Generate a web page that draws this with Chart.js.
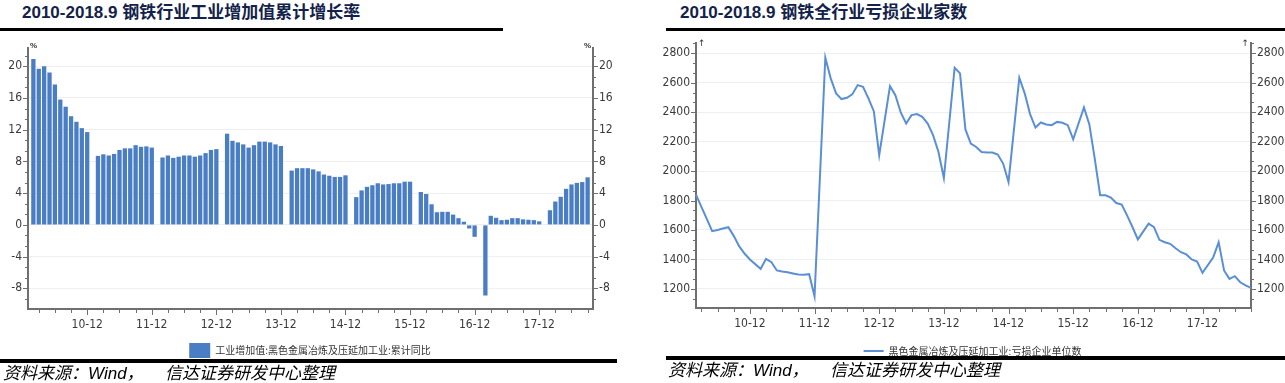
<!DOCTYPE html>
<html><head><meta charset="utf-8">
<script src="https://cdn.jsdelivr.net/npm/chart.js@4.4.1/dist/chart.umd.min.js"></script>
<style>
html,body{margin:0;padding:0;background:#fff;}
body{width:1285px;height:383px;position:relative;overflow:hidden;}
.title{position:absolute;top:2px;font:bold 17px "Liberation Sans","Noto Sans CJK SC",sans-serif;color:#13224a;white-space:nowrap;line-height:22px;}
.rule{position:absolute;background:#000;}
.src{position:absolute;font:italic 17px "Liberation Sans","Noto Sans CJK SC",sans-serif;color:#000;white-space:nowrap;line-height:20px;}
canvas{position:absolute;top:0;}
</style></head>
<body>
<div class="title" style="left:22px">2010-2018.9 钢铁行业工业增加值累计增长率</div>
<div class="title" style="left:680px">2010-2018.9 钢铁全行业亏损企业家数</div>
<div class="rule" style="left:0;top:28px;width:503px;height:3px"></div>
<div class="rule" style="left:666px;top:28px;width:619px;height:3px"></div>
<canvas id="barChart" width="620" height="368" style="left:0"></canvas>
<canvas id="lineChart" width="625" height="366" style="left:660px"></canvas>
<div class="rule" style="left:0;top:359px;width:617px;height:4px"></div>
<div class="rule" style="left:666px;top:356px;width:619px;height:4px"></div>
<div class="src" style="left:3px;top:364px">资料来源：Wind，</div>
<div class="src" style="left:165px;top:364px">信达证券研发中心整理</div>
<div class="src" style="left:668px;top:361px">资料来源：Wind，</div>
<div class="src" style="left:830px;top:361px">信达证券研发中心整理</div>
<script>
// ---------- DATA ----------
const years = [2010, 2011, 2012, 2013, 2014, 2015, 2016, 2017, 2018];

// 工业增加值:黑色金属冶炼及压延加工业:累计同比 (%), Jan..Dec (Jan has no data)
const va2010 = [null, 20.9, 19.7, 20.0, 19.2, 17.7, 15.8, 14.9, 13.7, 13.0, 12.2, 11.7];
const va2011 = [null, 8.7, 8.9, 8.75, 8.95, 9.45, 9.65, 9.65, 10.05, 9.85, 9.9, 9.75];
const va2012 = [null, 8.5, 8.75, 8.45, 8.6, 8.75, 8.75, 8.6, 8.75, 9.05, 9.45, 9.55];
const va2013 = [null, 11.5, 10.6, 10.4, 10.15, 9.75, 10.05, 10.5, 10.5, 10.4, 10.15, 9.95];
const va2014 = [null, 6.85, 7.15, 7.15, 7.15, 7.0, 6.75, 6.35, 6.2, 6.05, 6.05, 6.25];
const va2015 = [null, 3.5, 4.35, 4.8, 5.0, 5.25, 5.1, 5.15, 5.25, 5.25, 5.45, 5.45];
const va2016 = [null, 4.15, 3.9, 2.6, 1.6, 1.65, 1.65, 1.3, 0.85, 0.4, -0.45, -1.5];
const va2017 = [null, -8.9, 1.15, 0.9, 0.6, 0.65, 0.85, 0.85, 0.7, 0.65, 0.6, 0.45];
const va2018 = [null, 1.85, 2.95, 3.55, 4.55, 5.1, 5.3, 5.4, 6.0, null];   // Jan..Oct

// 黑色金属冶炼及压延加工业:亏损企业单位数 (家)
const ls2010 = [1840, 1757, 1675, 1592, 1600, 1610, 1619, 1560, 1490, 1440, 1400]; // Feb..Dec
const ls2011 = [null, 1336, 1404, 1381, 1325, 1318, 1313, 1305, 1297, 1296, 1300, 1150];
const ls2012 = [null, 2770, 2630, 2528, 2489, 2498, 2521, 2584, 2573, 2494, 2407, 2108];
const ls2013 = [null, 2577, 2516, 2398, 2323, 2380, 2387, 2368, 2323, 2244, 2130, 1953];
const ls2014 = [null, 2702, 2664, 2283, 2187, 2164, 2130, 2126, 2126, 2112, 2051, 1926];
const ls2015 = [null, 2634, 2528, 2387, 2296, 2330, 2317, 2312, 2334, 2328, 2312, 2216];
const ls2016 = [null, 2432, 2317, 2085, 1836, 1836, 1820, 1783, 1772, 1699, 1620, 1536];
const ls2017 = [null, 1643, 1619, 1533, 1517, 1506, 1476, 1449, 1434, 1400, 1386, 1309];
const ls2018 = [null, 1415, 1517, 1325, 1268, 1286, 1245, 1223, 1207];              // Jan..Sep

// axis ticks
const barYMajor = [-8, -4, 0, 4, 8, 12, 16, 20];
const barYRange = [-10.6, 22.3];
const lossYMajor = [1200, 1400, 1600, 1800, 2000, 2200, 2400, 2600, 2800];
const lossYRange = [1070, 2870];

const barLabel = '工业增加值:黑色金属冶炼及压延加工业:累计同比';
const lineLabel = '黑色金属冶炼及压延加工业:亏损企业单位数';

// ---------- BUILD ----------
const pad = n => (n < 10 ? '0' : '') + n;
function monthLabels(series, firstMonth) {
  const out = [];
  series.forEach((arr, yi) => {
    const start = yi === 0 ? firstMonth : 1;
    arr.forEach((_, k) => out.push(years[yi] + '-' + pad(start + k)));
  });
  return out;
}
const barSeries = [va2010, va2011, va2012, va2013, va2014, va2015, va2016, va2017, va2018];
const lossSeries = [ls2010, ls2011, ls2012, ls2013, ls2014, ls2015, ls2016, ls2017, ls2018];
const barCats = monthLabels(barSeries, 1);
const barVals = [].concat(...barSeries);
const lossCats = monthLabels(lossSeries, 2);
const lossVals = [].concat(...lossSeries);

function allTicks(major, range) {
  const step = (major[1] - major[0]) / 3;
  let v = major[0];
  while (v - step >= range[0] - 1e-9) v -= step;
  const out = [];
  for (; v <= range[1] + 1e-9; v += step) out.push(+v.toFixed(6));
  return out;
}
const isMajorOf = (major) => v => major.some(m => Math.abs(m - v) < 1e-6);

const tickFont = { family: "'Liberation Sans Narrow','DejaVu Sans Condensed',sans-serif", size: 12 };
const axisColor = '#6f6f6f';
const labelColor = '#3a3a3a';

const decor = {
  id: 'decor',
  afterDraw(chart, args, o) {
    const ctx = chart.ctx;
    ctx.save();
    ctx.strokeStyle = axisColor;
    ctx.lineWidth = 1;
    const xs = chart.scales.x;
    chart.data.labels.forEach((lab, i) => {
      const m = parseInt(lab.slice(5), 10);
      if (m % 3 !== 0) return;
      const len = m === 12 ? 6 : 4;
      const px = Math.round(xs.getPixelForValue(i)) + 0.5;
      ctx.beginPath(); ctx.moveTo(px, xs.top); ctx.lineTo(px, xs.top + len); ctx.stroke();
    });
    ['y', 'y2'].forEach(id => {
      const s = chart.scales[id];
      const left = s.position === 'left';
      const ax = left ? chart.chartArea.left : chart.chartArea.right;
      s.ticks.forEach(t => {
        const len = o.isMajor(t.value) ? 5 : 3;
        const py = Math.round(s.getPixelForValue(t.value)) + 0.5;
        ctx.beginPath(); ctx.moveTo(ax, py); ctx.lineTo(left ? ax - len : ax + len, py); ctx.stroke();
      });
    });
    ctx.fillStyle = '#333';
    ctx.font = o.unitFont;
    ctx.textBaseline = 'middle';
    ctx.textAlign = 'left';
    ctx.fillText(o.unit, chart.chartArea.left + 2, chart.chartArea.top + o.unitDy);
    ctx.textAlign = 'right';
    ctx.fillText(o.unit, chart.chartArea.right - 2, chart.chartArea.top + o.unitDy);
    ctx.restore();
  }
};

function yScale(position, major, range, width, gridOn) {
  const isMajor = isMajorOf(major);
  const ticksAll = allTicks(major, range);
  return {
    type: 'linear', position, min: range[0], max: range[1], bounds: 'data',
    afterBuildTicks: s => { s.ticks = ticksAll.map(v => ({ value: v })); },
    afterFit: s => { s.width = width; },
    border: { display: true, color: axisColor, width: 2 },
    grid: {
      drawOnChartArea: gridOn, drawTicks: false,
      color: c => (c.tick && isMajor(c.tick.value)) ? '#efefef' : 'rgba(0,0,0,0)', lineWidth: 1
    },
    ticks: {
      padding: 6, font: tickFont, color: labelColor, autoSkip: false,
      callback: v => isMajor(v) ? String(v) : ''
    }
  };
}
function xScale(height) {
  return {
    type: 'category', offset: false,
    afterFit: s => { s.height = height; },
    border: { display: true, color: axisColor, width: 2 },
    grid: { display: true, drawOnChartArea: false, drawTicks: false, offset: false },
    ticks: {
      autoSkip: false, maxRotation: 0, minRotation: 0, padding: 9, font: tickFont, color: labelColor,
      callback: function (v) { const l = this.getLabelForValue(v); return l.endsWith('-12') ? l.slice(2) : ''; }
    }
  };
}

new Chart(document.getElementById('barChart'), {
  type: 'bar',
  data: {
    labels: barCats,
    datasets: [{
      label: barLabel, data: barVals, backgroundColor: '#4a7ec4', borderWidth: 0,
      categoryPercentage: 1.0, barPercentage: 0.8
    }]
  },
  options: {
    responsive: false, animation: false, devicePixelRatio: 1,
    layout: { padding: { left: 0, right: 0, top: 48, bottom: 0 } },
    scales: {
      x: xScale(24),
      y: yScale('left', barYMajor, barYRange, 28, true),
      y2: yScale('right', barYMajor, barYRange, 27, false)
    },
    plugins: {
      legend: {
        position: 'bottom',
        labels: { boxWidth: 21, boxHeight: 15, padding: 10, color: '#333',
          font: { family: "'Noto Sans CJK SC',sans-serif", size: 10 } }
      },
      tooltip: { enabled: false },
      decor: { isMajor: isMajorOf(barYMajor), unit: '%', unitFont: 'bold 8px "Liberation Sans",sans-serif', unitDy: -2 }
    }
  },
  plugins: [decor]
});

new Chart(document.getElementById('lineChart'), {
  type: 'line',
  data: {
    labels: lossCats,
    datasets: [{
      label: lineLabel, data: lossVals, borderColor: '#5a8fd6', backgroundColor: '#5a8fd6',
      borderWidth: 2, pointRadius: 0, tension: 0, spanGaps: true, fill: false
    }]
  },
  options: {
    responsive: false, animation: false, devicePixelRatio: 1,
    layout: { padding: { left: 0, right: 0, top: 43, bottom: 0 } },
    scales: {
      x: xScale(28),
      y: yScale('left', lossYMajor, lossYRange, 36, true),
      y2: yScale('right', lossYMajor, lossYRange, 34, false)
    },
    plugins: {
      legend: {
        position: 'bottom',
        labels: { usePointStyle: true, pointStyle: 'line', pointStyleWidth: 20, padding: 10, color: '#333',
          font: { family: "'Noto Sans CJK SC',sans-serif", size: 10 } }
      },
      tooltip: { enabled: false },
      decor: { isMajor: isMajorOf(lossYMajor), unit: '↑', unitFont: '9px "DejaVu Sans",sans-serif', unitDy: 1 }
    }
  },
  plugins: [decor]
});
</script>
</body></html>
